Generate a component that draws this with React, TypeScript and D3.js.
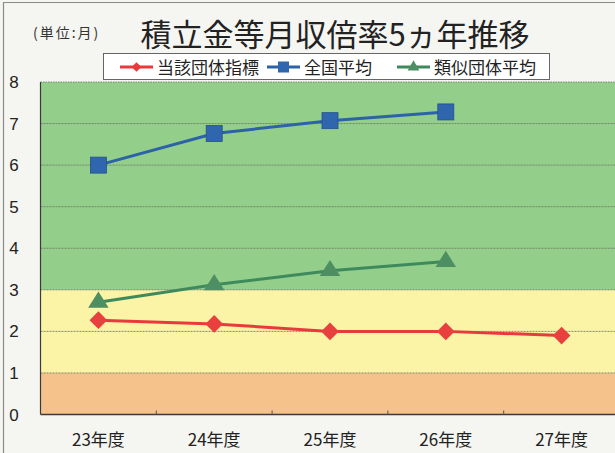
import React from "react";
import * as d3 from "d3";

const categories = ["23年度", "24年度", "25年度", "26年度", "27年度"];
const seriesNames = ["当該団体指標", "全国平均", "類似団体平均"];
const localValues = [2.27, 2.18, 2.0, 2.0, 1.9];
const nationalValues = [6.0, 6.76, 7.07, 7.28];
const similarValues = [2.7, 3.12, 3.46, 3.68];
const yTicks = [0, 1, 2, 3, 4, 5, 6, 7, 8];
const bands = [
  { from: 0, to: 1, color: "#f4c28a" },
  { from: 1, to: 3, color: "#fbf3a6" },
  { from: 3, to: 8, color: "#93cf8b" },
];

const W = 615;
const H = 453;
const plot = { left: 40.5, top: 82, bottom: 414.5, bandW: 115.8 };

export default function App() {
  const x = d3
    .scaleBand<string>()
    .domain(categories)
    .range([plot.left, plot.left + plot.bandW * categories.length])
    .padding(0);
  const y = d3.scaleLinear().domain([0, 8]).range([plot.bottom, plot.top]);
  const cx = (c: string) => (x(c) as number) + x.bandwidth() / 2;
  const right = W + 10;
  const font = "'Noto Sans CJK JP', 'Noto Sans', sans-serif";
  const line = d3
    .line<number>()
    .x((_, i) => cx(categories[i]))
    .y((d) => y(d));

  const diamond = d3.symbol().type(d3.symbolDiamond2).size(200)() as string;
  const tri = d3.symbol().type(d3.symbolTriangle).size(150)() as string;

  return (
    <svg
      width={W}
      height={H}
      style={{ position: "absolute", left: 0, top: 0 }}
      fontFamily={font}
    >
      <rect x={0} y={0} width={W} height={H} fill="#f5f5f1" />
      <path d={`M3.5,${H} V2.5 H${W}`} fill="none" stroke="#8a8a8a" strokeWidth={1.2} />

      {/* background bands */}
      {bands.map((b) => (
        <rect
          key={b.from}
          x={plot.left}
          y={y(b.to)}
          width={right - plot.left}
          height={y(b.from) - y(b.to)}
          fill={b.color}
        />
      ))}

      {/* gridlines */}
      {yTicks.slice(1).map((t) => (
        <line
          key={t}
          x1={plot.left}
          x2={right}
          y1={y(t)}
          y2={y(t)}
          stroke="#6f7a66"
          strokeWidth={1}
          strokeDasharray={t === 8 ? "1.5,1" : "2,1"}
          opacity={0.85}
        />
      ))}

      {/* axes */}
      <line x1={plot.left} x2={right} y1={plot.bottom} y2={plot.bottom} stroke="#3a3a3a" strokeWidth={1.4} />
      <line x1={plot.left} x2={plot.left} y1={plot.top} y2={plot.bottom} stroke="#3a3a3a" strokeWidth={1.2} />
      {categories.slice(1).map((c) => (
        <line
          key={c}
          x1={x(c) as number}
          x2={x(c) as number}
          y1={plot.bottom}
          y2={plot.bottom - 4}
          stroke="#555"
          strokeWidth={1}
        />
      ))}

      {/* y tick labels */}
      {yTicks.map((t) => (
        <text
          key={t}
          x={14}
          y={y(t) + 6}
          fontSize={17}
          textAnchor="middle"
          fill="#222"
          fontFamily="'Liberation Sans', Arial, sans-serif"
        >
          {t}
        </text>
      ))}

      {/* x tick labels */}
      {categories.map((c) => (
        <text key={c} x={cx(c)} y={446} fontSize={17} textAnchor="middle" fill="#222">
          {c}
        </text>
      ))}

      {/* lines */}
      <path d={line(nationalValues) as string} fill="none" stroke="#2d62a8" strokeWidth={3} />
      <path d={line(similarValues) as string} fill="none" stroke="#3f8a5c" strokeWidth={3} />
      <path d={line(localValues) as string} fill="none" stroke="#e83a3c" strokeWidth={3} />

      {/* markers */}
      {nationalValues.map((v, i) => (
        <rect
          key={"n" + i}
          x={cx(categories[i]) - 8}
          y={y(v) - 8}
          width={16}
          height={16}
          fill="#3066ad"
          stroke="#24508c"
          strokeWidth={0.8}
        />
      ))}
      {similarValues.map((v, i) => (
        <path
          key={"s" + i}
          d={tri}
          transform={`translate(${cx(categories[i])},${y(v)}) scale(1.1,1)`}
          fill="#4d8e62"
        />
      ))}
      {localValues.map((v, i) => (
        <path
          key={"l" + i}
          d={diamond}
          transform={`translate(${cx(categories[i])},${y(v)})`}
          fill="#e8403f"
        />
      ))}

      {/* title */}
      <text x={33} y={38} fontSize={14} letterSpacing={2} fill="#333">
        (単位:月)
      </text>
      <text x={335} y={46} fontSize={31} textAnchor="middle" fill="#222">
        積立金等月収倍率5ヵ年推移
      </text>

      {/* legend */}
      <rect x={103.5} y={53.5} width={446} height={26} fill="#ffffff" stroke="#666" strokeWidth={1} />
      {seriesNames.map((name, i) => {
        const lx = [120, 267, 397][i];
        const color = ["#e83a3c", "#2d62a8", "#3f8a5c"][i];
        const ly = 67;
        return (
          <g key={name}>
            <line x1={lx} x2={lx + 33} y1={ly} y2={ly} stroke={color} strokeWidth={3} />
            {i === 0 && (
              <path d={d3.symbol().type(d3.symbolDiamond2).size(60)() as string} transform={`translate(${lx + 16.5},${ly})`} fill={color} />
            )}
            {i === 1 && <rect x={lx + 11} y={ly - 5.5} width={11} height={11} fill="#3066ad" />}
            {i === 2 && (
              <path d={d3.symbol().type(d3.symbolTriangle).size(60)() as string} transform={`translate(${lx + 16.5},${ly})`} fill="#4d8e62" />
            )}
            <text x={lx + 37} y={ly + 6.5} fontSize={17} fill="#222">
              {name}
            </text>
          </g>
        );
      })}
    </svg>
  );
}
